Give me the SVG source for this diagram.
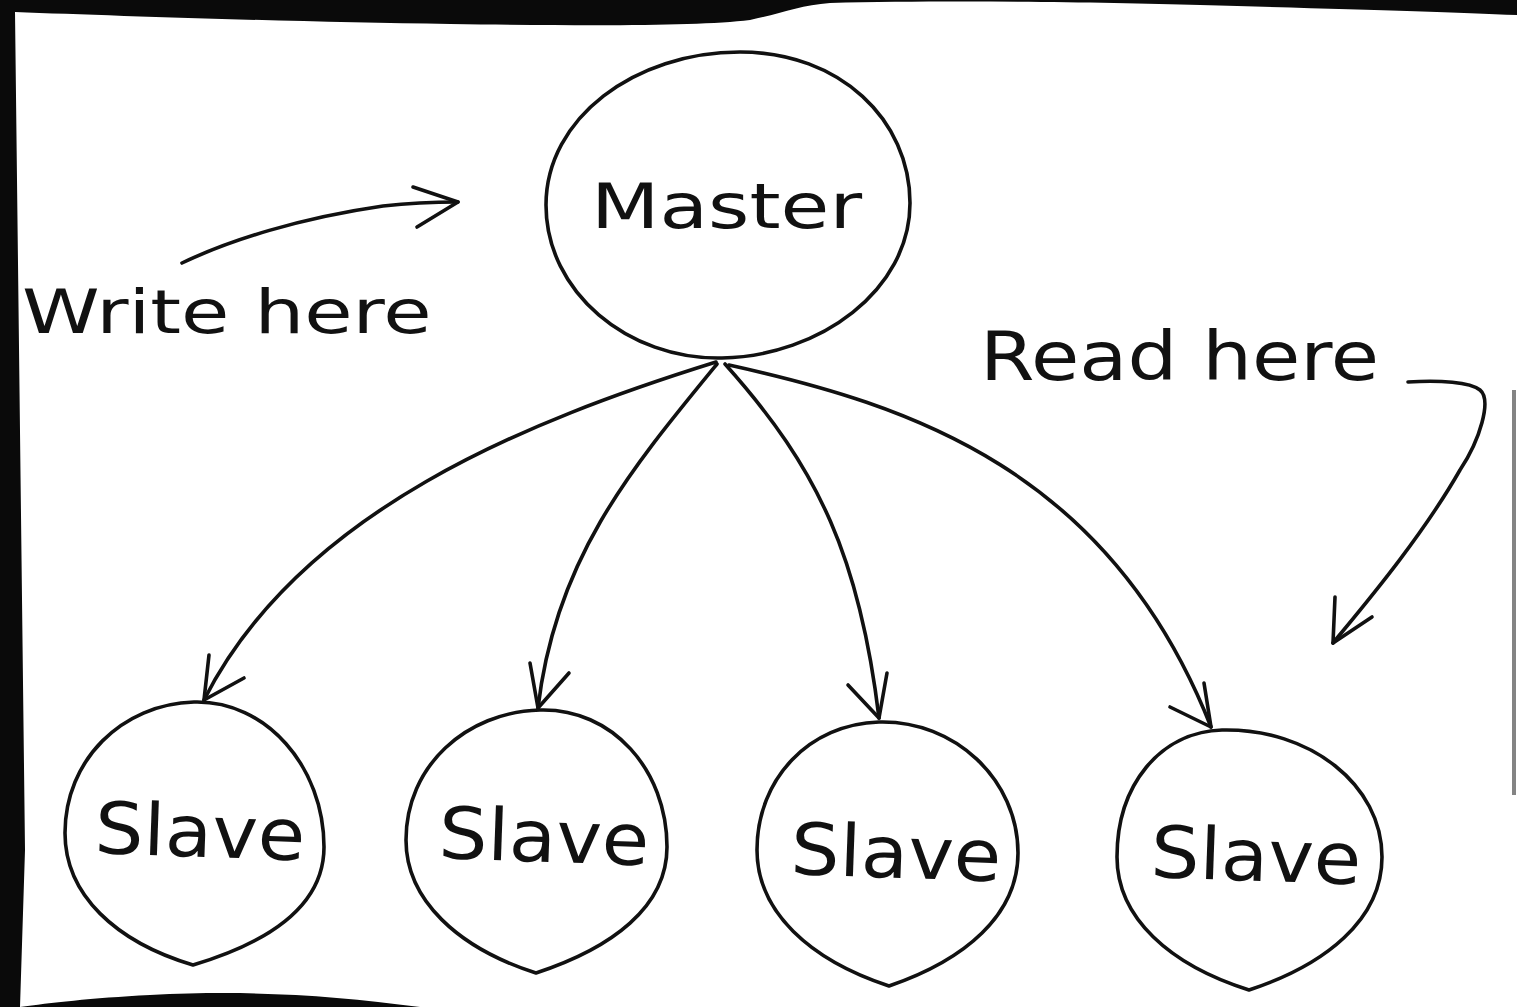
<svg xmlns="http://www.w3.org/2000/svg" width="1517" height="1007" viewBox="0 0 1517 1007">
<style>
.ink{fill:none;stroke:#111;stroke-width:3.6;stroke-linecap:round;stroke-linejoin:round}
.node{fill:#fff;stroke:#111;stroke-width:3.6;stroke-linejoin:round}
.lbl{font-family:"DejaVu Sans","Liberation Sans",sans-serif;fill:#111;font-weight:normal}
</style>
<rect x="0" y="0" width="1517" height="1007" fill="#0a0a0a"/>
<path d="M15,12 C120,16 300,22 450,24 C600,26 700,26 750,20 C780,14 800,5 830,3 C950,0 1100,2 1200,5 C1350,9 1450,12 1517,15 L1517,1007 L420,1007 C330,995 250,990 150,995 C90,998 50,1003 20,1007 L25,850 Z" fill="#fff"/>
<line x1="1514" y1="390" x2="1514" y2="795" stroke="#333" stroke-width="4" opacity="0.6"/>

<g id="connectors">
  <path class="ink" d="M716,362 C530,420 300,510 204,700"/>
  <path class="ink" d="M209,655 L204,700 L244,678"/>
  <path class="ink" d="M717,364 C630,470 555,560 538,708"/>
  <path class="ink" d="M530,663 L538,708 L569,673"/>
  <path class="ink" d="M725,364 C820,470 860,560 879,718"/>
  <path class="ink" d="M848,685 L879,718 L887,673"/>
  <path class="ink" d="M729,365 C910,405 1110,470 1211,727"/>
  <path class="ink" d="M1170,707 L1211,727 L1204,683"/>
  <path class="ink" d="M182,263 C230,240 300,218 383,206 C410,203 440,202 458,202"/>
  <path class="ink" d="M413,187 L458,202 L417,227"/>
  <path class="ink" d="M1408,382 C1440,380 1470,382 1480,390 C1492,400 1480,440 1460,470 C1420,540 1360,610 1333,643"/>
  <path class="ink" d="M1335,597 L1333,643 L1372,617"/>
</g>

<g id="master">
  <path class="node" d="M740,52 C840,52 910,120 910,203 C910,290 820,356 722,358 C628,360 546,292 546,205 C546,118 635,52 740,52 Z"/>
  <text class="lbl" font-size="63" transform="translate(591,228) scale(1.26,1)" x="0" y="0">Master</text>
</g>

<g id="slave1">
  <path class="node" d="M194,702 C266,700 324,767 324,847 C324,905 270,942 193,965 C116,942 65,895 65,833 C65,760 122,704 194,702 Z"/>
  <text class="lbl" font-size="72" transform="translate(94,853) rotate(2) scale(1.07,1)" x="0" y="0">Slave</text>
</g>
<g id="slave2">
  <path class="node" d="M540,710 C612,708 667,770 667,847 C667,907 612,948 536,973 C458,948 406,900 406,840 C406,766 466,712 540,710 Z"/>
  <text class="lbl" font-size="72" transform="translate(438,858) rotate(2) scale(1.07,1)" x="0" y="0">Slave</text>
</g>
<g id="slave3">
  <path class="node" d="M879,722 C955,720 1018,780 1018,853 C1018,915 965,960 889,986 C810,960 757,912 757,850 C757,778 810,724 879,722 Z"/>
  <text class="lbl" font-size="72" transform="translate(790,874) rotate(2) scale(1.07,1)" x="0" y="0">Slave</text>
</g>
<g id="slave4">
  <path class="node" d="M1222,730 C1310,728 1382,785 1382,857 C1382,920 1325,965 1249,990 C1170,965 1117,918 1117,857 C1117,785 1160,732 1222,730 Z"/>
  <text class="lbl" font-size="72" transform="translate(1150,877) rotate(2) scale(1.07,1)" x="0" y="0">Slave</text>
</g>

<g id="write-label">
  <text class="lbl" font-size="60" transform="translate(22,333) scale(1.31,1)" x="0" y="0">Write here</text>
</g>
<g id="read-label">
  <text class="lbl" font-size="68" transform="translate(980,380) scale(1.155,1)" x="0" y="0">Read here</text>
</g>
</svg>
